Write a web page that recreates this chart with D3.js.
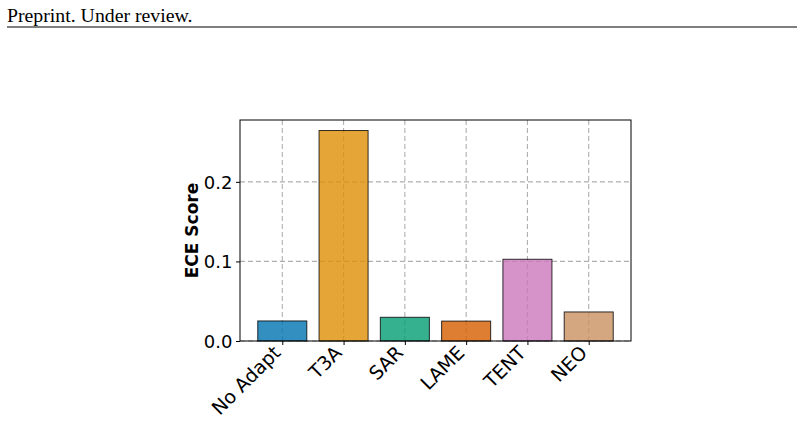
<!DOCTYPE html>
<html>
<head>
<meta charset="UTF-8">
<script src="https://d3js.org/d3.v7.min.js"></script>
<style>
  body { margin: 0; background: #fff; }
  svg { display: block; }
  .tick text { font-family: "DejaVu Sans", sans-serif; fill: #000; }
</style>
</head>
<body>
<svg id="chart" width="804" height="424"></svg>
<script>
// data
const methods = ["No Adapt", "T3A", "SAR", "LAME", "TENT", "NEO"];
const eceScores = [0.0252, 0.2645, 0.0298, 0.0250, 0.1027, 0.0365];
const barColors = ["#0173b2", "#de8f05", "#029e73", "#d55e00", "#cc78bc", "#ca9161"];
const yTicks = [0.0, 0.1, 0.2];

const svg = d3.select("#chart");

// page header
svg.append("text")
  .attr("x", 7).attr("y", 22)
  .attr("font-family", "Liberation Serif, Times New Roman, serif")
  .attr("font-size", 19.8)
  .text("Preprint. Under review.");
svg.append("line")
  .attr("x1", 7).attr("x2", 797)
  .attr("y1", 27).attr("y2", 27)
  .attr("stroke", "#000").attr("stroke-width", 1.2);

const plotL = 240, plotR = 631, plotT = 120, plotB = 341;

// matplotlib-like limits: bar width 0.8, 5% margins
const n = methods.length;
const xlo = -0.4 - 0.05 * (n - 1 + 0.8), xhi = n - 1 + 0.4 + 0.05 * (n - 1 + 0.8);
const x = d3.scaleLinear().domain([xlo, xhi]).range([plotL, plotR]);
const ymax = d3.max(eceScores) * 1.05;
const y = d3.scaleLinear().domain([0, ymax]).range([plotB, plotT]);

const g = svg.append("g");

// grid
g.selectAll(".hgrid").data(yTicks).enter().append("line")
  .attr("x1", plotL).attr("x2", plotR)
  .attr("y1", d => y(d)).attr("y2", d => y(d))
  .attr("stroke", "#b0b0b0").attr("stroke-width", 1.1)
  .attr("stroke-dasharray", "5,3");
g.selectAll(".vgrid").data(methods).enter().append("line")
  .attr("x1", (d, i) => x(i)).attr("x2", (d, i) => x(i))
  .attr("y1", plotT).attr("y2", plotB)
  .attr("stroke", "#b0b0b0").attr("stroke-width", 1.1)
  .attr("stroke-dasharray", "5,3");

// bars
g.selectAll(".bar").data(eceScores).enter().append("rect")
  .attr("x", (d, i) => x(i - 0.4))
  .attr("width", (d, i) => x(i + 0.4) - x(i - 0.4))
  .attr("y", d => y(d))
  .attr("height", d => y(0) - y(d))
  .attr("fill", (d, i) => barColors[i])
  .attr("fill-opacity", 0.8)
  .attr("stroke", "#000").attr("stroke-opacity", 0.8)
  .attr("stroke-width", 1);

// axes
const xAxis = d3.axisBottom(x).tickValues(d3.range(n))
  .tickFormat(i => methods[i]).tickSizeOuter(0).tickSize(4);
const gx = svg.append("g").attr("transform", `translate(0,${plotB})`).call(xAxis);
gx.select(".domain").remove();
gx.selectAll(".tick line").attr("stroke", "#000");
gx.selectAll(".tick text")
  .attr("font-size", 19)
  .attr("text-anchor", "end")
  .attr("dy", null)
  .attr("y", 0)
  .attr("transform", "translate(-1,13) rotate(-45)");

const yAxis = d3.axisLeft(y).tickValues(yTicks).tickFormat(d3.format(".1f"))
  .tickSizeOuter(0).tickSize(4).tickPadding(3.5);
const gy = svg.append("g").attr("transform", `translate(${plotL},0)`).call(yAxis);
gy.select(".domain").remove();
gy.selectAll(".tick line").attr("stroke", "#000");
gy.selectAll(".tick text").attr("font-size", 18).attr("dy", "0.36em");

// frame
svg.append("rect")
  .attr("x", plotL).attr("y", plotT)
  .attr("width", plotR - plotL).attr("height", plotB - plotT)
  .attr("fill", "none").attr("stroke", "#000").attr("stroke-width", 1);

// y label
svg.append("text")
  .attr("transform", `translate(198,${(plotT + plotB) / 2}) rotate(-90)`)
  .attr("text-anchor", "middle")
  .attr("font-family", "DejaVu Sans, sans-serif")
  .attr("font-weight", "bold")
  .attr("font-size", 17)
  .text("ECE Score");
</script>
</body>
</html>
